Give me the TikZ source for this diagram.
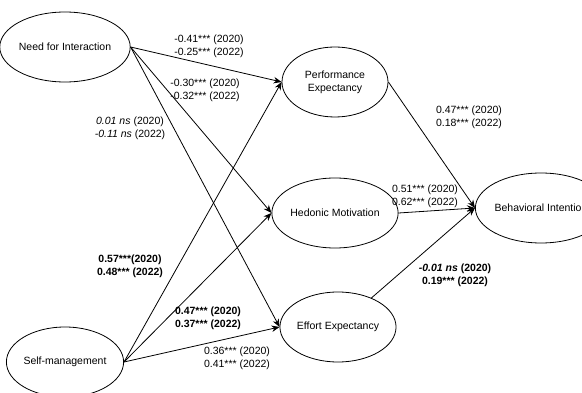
\documentclass[tikz,border=0pt]{standalone}
\usepackage{fontspec}
\setmainfont{Liberation Sans}
\usetikzlibrary{shapes.geometric,arrows.meta}

\begin{document}
\begin{tikzpicture}[x=1pt,y=-1pt,line width=0.8pt,
    >={Stealth[length=8pt,width=6.5pt]},
    var/.style={draw,ellipse,minimum width=106pt,minimum height=70pt,inner sep=0pt,
      align=center,font=\fontsize{10.5}{13}\selectfont},
    lab/.style={align=center,inner sep=0pt,font=\fontsize{10.5}{13}\selectfont}]
      \useasboundingbox (0,0) rectangle (582,393);
      \clip (0,0) rectangle (582,393);
      % constructs
      \node[var] (nfi) at ( 65, 47) {Need for Interaction};
      \node[var] (sm)  at ( 65,362) {Self-management};
      \node[var] (pe)  at (335, 82) {Performance\\Expectancy};
      \node[var] (hm)  at (335,213) {Hedonic Motivation};
      \node[var] (ee)  at (338,327) {Effort Expectancy};
      \node[var] (bi)  at (541,208) {Behavioral Intention};
      % paths
      \draw[->] (nfi.east) -- (pe.west);
      \draw[->] (nfi.east) -- (hm.west);
      \draw[->] (nfi.east) -- (ee.west);
      \draw[->] (sm.east) -- (pe.west);
      \draw[->] (sm.east) -- (hm.west);
      \draw[->] (sm.east) -- (ee.west);
      \draw[->] (pe.east) -- (bi.west);
      \draw[->] (hm.east) -- (bi.west);
      \draw[->] (ee) -- (bi.west);
      % coefficients
      \node[lab] (c1) at (209, 46) {-0.41*** (2020)\\-0.25*** (2022)};
      \node[lab] (c2) at (205, 90) {-0.30*** (2020)\\-0.32*** (2022)};
      \node[lab] (c3) at (130,128) {\textit{0.01 ns} (2020)\\\textit{-0.11 ns} (2022)};
      \node[lab] (c4) at (469,117) {0.47*** (2020)\\0.18*** (2022)};
      \node[lab] (c5) at (425,196) {0.51*** (2020)\\0.62*** (2022)};
      \node[lab,font=\fontsize{10.5}{13}\selectfont\bfseries] (c6) at (130,266)
        {0.57***(2020)\\0.48*** (2022)};
      \node[lab,font=\fontsize{10.5}{13}\selectfont\bfseries] (c7) at (208,318)
        {0.47*** (2020)\\0.37*** (2022)};
      \node[lab] (c8) at (237,358) {0.36*** (2020)\\0.41*** (2022)};
      \node[lab,font=\fontsize{10.5}{13}\selectfont\bfseries] (c9) at (455,275)
        {\textit{-0.01 ns} (2020)\\0.19*** (2022)};
\end{tikzpicture}
\end{document}
